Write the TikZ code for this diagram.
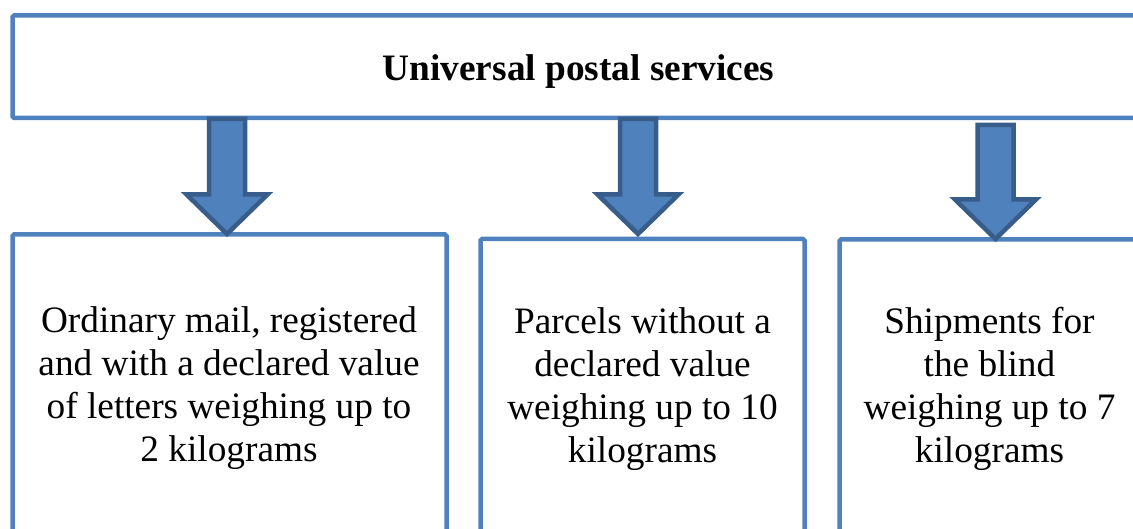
\documentclass[tikz,border=0pt]{standalone}
\usepackage{fontspec}
\setmainfont{Liberation Serif}
\usetikzlibrary{calc}

\definecolor{boxblue}{HTML}{4F81BD}
\definecolor{arrowedge}{HTML}{385D8A}

\tikzset{
  frame/.style={draw=boxblue, line width=4.5pt, rounded corners=1.5pt,
    rectangle, inner sep=0pt, outer sep=0pt, anchor=north west},
  bodytext/.style={align=center, inner sep=0pt,
    font=\fontsize{37.3}{43}\selectfont},
  titletext/.style={inner sep=0pt, font=\fontsize{37.3}{43}\selectfont\bfseries},
  fatarrow/.style={fill=boxblue, draw=arrowedge, line width=4.5pt, line join=miter}
}

% block arrow pointing down from #1 (middle of the shaft top) to #2 (tip)
\newcommand\fatarrow[2]{%
  \draw[fatarrow] let \p1=(#1), \p2=(#2) in
    (\x1-18pt,\y1) -- (\x1+18pt,\y1) -- (\x1+18pt,\y2+39.5pt)
    -- (\x1+40.5pt,\y2+39.5pt) -- (\x2,\y2) -- (\x1-40.5pt,\y2+39.5pt)
    -- (\x1-18pt,\y2+39.5pt) -- cycle;}

\begin{document}
\begin{tikzpicture}[x=1pt,y=-1pt]
  \useasboundingbox (0,0) rectangle (1133,529);
  \clip (0,0) rectangle (1133,529);

  % header
  \node[frame, minimum width=1132pt, minimum height=102.5pt] (top) at (12.5,15.5) {};
  \node[titletext] (title) at (578.5,71.5) {Universal postal services};

  % three categories
  \node[frame, minimum width=434pt, minimum height=330pt] (b1) at (12.5,234.5) {};
  \node[frame, minimum width=324pt, minimum height=330pt] (b2) at (480.5,239) {};
  \node[frame, minimum width=320pt, minimum height=330pt] (b3) at (839.5,239.5) {};

  \node[bodytext] (t1) at (229,388.5)
    {Ordinary mail, registered\\and with a declared value\\of letters weighing up to\\2 kilograms};
  \node[bodytext] (t2) at (642.5,389)
    {Parcels without a\\declared value\\weighing up to 10\\kilograms};
  \node[bodytext] (t3) at (989.5,389)
    {Shipments for\\the blind\\weighing up to 7\\kilograms};

  % arrows from the header down to each category
  \coordinate (a1s) at (227,119);   \coordinate (a1e) at (227,234);
  \coordinate (a2s) at (638,119);   \coordinate (a2e) at (638,234);
  \coordinate (a3s) at (995.5,125); \coordinate (a3e) at (995.5,239);
  \fatarrow{a1s}{a1e}
  \fatarrow{a2s}{a2e}
  \fatarrow{a3s}{a3e}
\end{tikzpicture}
\end{document}
